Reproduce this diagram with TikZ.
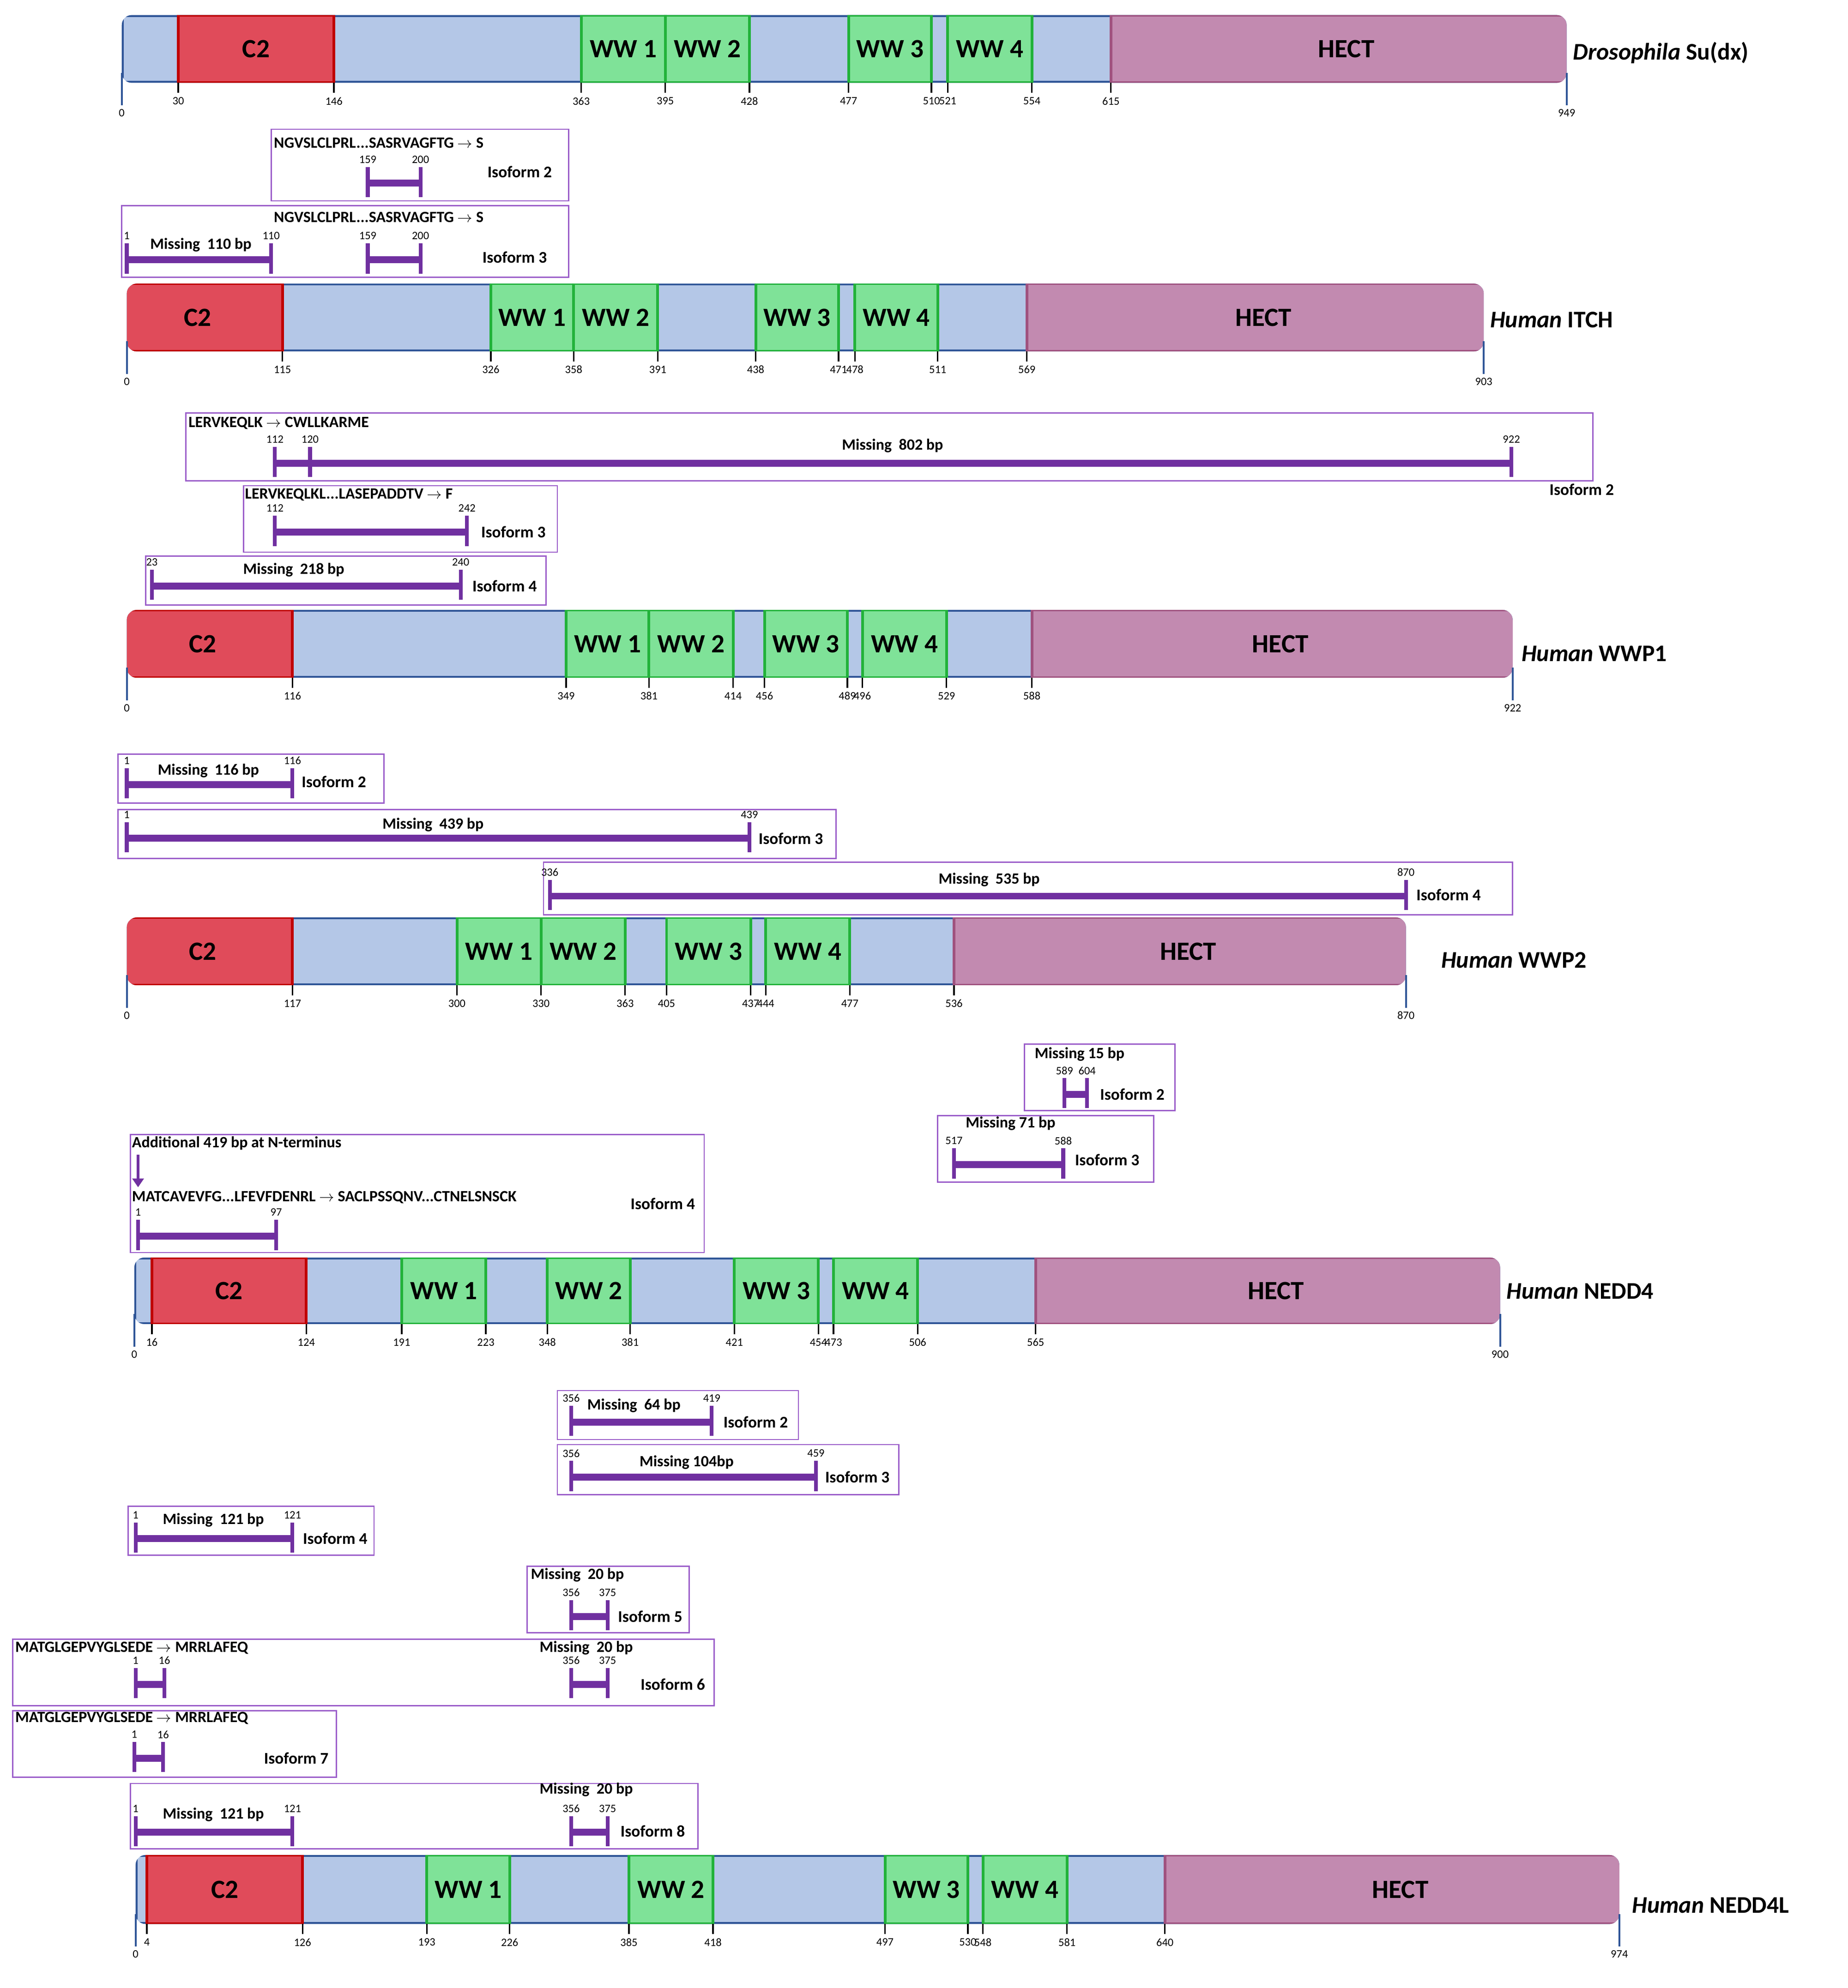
\documentclass[tikz,border=0pt]{standalone}
\usepackage{fontspec}
\usetikzlibrary{arrows.meta}
\setmainfont{Carlito}
\definecolor{lb}{HTML}{B4C7E7}
\definecolor{db}{HTML}{2F5597}
\definecolor{cr}{HTML}{E04B5A}
\definecolor{crd}{HTML}{C00000}
\definecolor{wg}{HTML}{7FE298}
\definecolor{wgd}{HTML}{22B23A}
\definecolor{hm}{HTML}{C28AB0}
\definecolor{hmd}{HTML}{A0527F}
\definecolor{pu}{HTML}{7030A0}
\definecolor{pb}{HTML}{9A5CC9}
\tikzset{
 c2/.style={fill=cr,draw=crd},
 ww/.style={fill=wg,draw=wgd},
 hect/.style={fill=hm,draw=hmd},
 dom/.style={font=\fontsize{21}{21}\selectfont\bfseries},
 num/.style={font=\fontsize{9}{9}\selectfont,inner sep=0pt},
 bt/.style={font=\fontsize{12.5}{13}\selectfont\bfseries,inner sep=0pt},
 iso/.style={font=\fontsize{13}{13}\selectfont\bfseries,inner sep=0pt},
 ttl/.style={font=\fontsize{19}{19}\selectfont\bfseries,inner sep=0pt,anchor=west},
 tick/.style={draw=black,line width=1.2},
 endl/.style={draw=db,line width=1.5},
 pv/.style={draw=pu,line width=3},
 ph/.style={draw=pu,line width=5.5},
 boxs/.style={draw=pb,line width=1},
}
\newcommand\pbar[5]{\def\ya{#3}\def\yb{#4}%
 \begin{scope}
 \clip[rounded corners=8] (#1,#3) rectangle (#2,#4);
 \filldraw[fill=lb,draw=db,line width=3] (#1,#3) rectangle (#2,#4);
 \begin{scope}[line width=2.2]#5\end{scope}
 \end{scope}}
\newcommand\sg[4]{\filldraw[#3] (#1,\ya) rectangle (#2,\yb);
 \node[dom] at ({(#1+#2)/2},{(\ya+\yb)/2}) {#4};}
\newcommand\tk[2]{\draw[tick] (#1,\yb) -- ++(0,8); \node[num] at (#1,\yb+14.5) {#2};}
\newcommand\etk[2]{\draw[endl] (#1,\yb-8) -- (#1,\yb+18); \node[num] at (#1,\yb+24) {#2};}
\newcommand\brk[5]{\draw[ph] (#1,#3) -- (#2,#3);
 \draw[pv] (#1,#3-13) -- (#1,#3+11); \draw[pv] (#2,#3-13) -- (#2,#3+11);
 \node[num] at (#1,#3-19) {#4}; \node[num] at (#2,#3-19) {#5};}
\newcommand\arr{$\rightarrow$}
\begin{document}
\begin{tikzpicture}[x=1pt,y=-1pt]
\useasboundingbox[fill=white] (0,0) rectangle (1472,1584);
% ---------------- Su(dx)
\pbar{97}{1248}{12}{66}{\sg{142}{266}{c2}{C2}\sg{463}{530}{ww}{WW 1}\sg{530}{597}{ww}{WW 2}\sg{676}{742}{ww}{WW 3}\sg{755}{822}{ww}{WW 4}\sg{885}{1260}{hect}{HECT}}
\foreach \x/\l in {142/30,266/146,463/363,530/395,597/428,676/477,742/510,755/521,822/554,885/615}{\tk{\x}{\l}}
\etk{97}{0}\etk{1248}{949}
\node[ttl] (t1) at (1253,42) {\textit{Drosophila} Su(dx)};
% ITCH isoforms
\draw[boxs] (216,103) rectangle (453,160);
\node[bt,anchor=west] (a1) at (218,114) {NGVSLCLPRL...SASRVAGFTG \arr{} S};
\brk{293}{335}{146}{159}{200}
\node[iso] (a2) at (414,137) {Isoform 2};
\draw[boxs] (97,164) rectangle (453,221);
\node[bt,anchor=west] (a3) at (218,173) {NGVSLCLPRL...SASRVAGFTG \arr{} S};
\brk{101}{216}{207}{1}{110}
\node[bt] (a4) at (160,195) {Missing\ \ 110 bp};
\brk{293}{335}{207}{159}{200}
\node[iso] (a5) at (410,205) {Isoform 3};
% ---------------- ITCH
\pbar{101}{1182}{226}{280}{\sg{90}{225}{c2}{C2}\sg{391}{457}{ww}{WW 1}\sg{457}{524}{ww}{WW 2}\sg{602}{668}{ww}{WW 3}\sg{681}{747}{ww}{WW 4}\sg{818}{1195}{hect}{HECT}}
\foreach \x/\l in {225/115,391/326,457/358,524/391,602/438,668/471,681/478,747/511,818/569}{\tk{\x}{\l}}
\etk{101}{0}\etk{1182}{903}
\node[ttl] (t2) at (1187,255) {\textit{Human} ITCH};
% WWP1 isoforms
\draw[boxs] (148,329) rectangle (1269,383);
\node[bt,anchor=west] (b1) at (150,337) {LERVKEQLK \arr{} CWLLKARME};
\brk{219}{1204}{369}{112}{922}
\draw[pv] (247,356) -- (247,380); \node[num] at (247,350) {120};
\node[bt] (b2) at (711,355) {Missing\ \ 802 bp};
\node[iso] (b3) at (1260,390) {Isoform 2};
\draw[boxs] (194,387) rectangle (444,440);
\node[bt,anchor=west] (b4) at (195,394) {LERVKEQLKL...LASEPADDTV \arr{} F};
\brk{219}{372}{424}{112}{242}
\node[iso] (b5) at (409,424) {Isoform 3};
\draw[boxs] (116,443) rectangle (435,482);
\brk{121}{367}{467}{23}{240}
\node[bt] (b6) at (234,454) {Missing\ \ 218 bp};
\node[iso] (b7) at (402,467) {Isoform 4};
% ---------------- WWP1
\pbar{101}{1205}{486}{540}{\sg{90}{233}{c2}{C2}\sg{451}{517}{ww}{WW 1}\sg{517}{584}{ww}{WW 2}\sg{609}{675}{ww}{WW 3}\sg{687}{754}{ww}{WW 4}\sg{822}{1218}{hect}{HECT}}
\foreach \x/\l in {233/116,451/349,517/381,584/414,609/456,675/489,687/496,754/529,822/588}{\tk{\x}{\l}}
\etk{101}{0}\etk{1205}{922}
\node[ttl] (t3) at (1212,521) {\textit{Human} WWP1};
% WWP2 isoforms
\draw[boxs] (94,601) rectangle (306,640);
\brk{101}{233}{625}{1}{116}
\node[bt] (c1) at (166,614) {Missing\ \ 116 bp};
\node[iso] (c2) at (266,623) {Isoform 2};
\draw[boxs] (94,645) rectangle (666,684);
\brk{101}{597}{668}{1}{439}
\node[bt] (c3) at (345,657) {Missing\ \ 439 bp};
\node[iso] (c4) at (630,668) {Isoform 3};
\draw[boxs] (433,687) rectangle (1205,729);
\brk{438}{1120}{714}{336}{870}
\node[bt] (c5) at (788,701) {Missing\ \ 535 bp};
\node[iso] (c6) at (1154,713) {Isoform 4};
% ---------------- WWP2
\pbar{101}{1120}{731}{785}{\sg{90}{233}{c2}{C2}\sg{364}{431}{ww}{WW 1}\sg{431}{498}{ww}{WW 2}\sg{531}{598}{ww}{WW 3}\sg{610}{677}{ww}{WW 4}\sg{760}{1133}{hect}{HECT}}
\foreach \x/\l in {233/117,364/300,431/330,498/363,531/405,598/437,610/444,677/477,760/536}{\tk{\x}{\l}}
\etk{101}{0}\etk{1120}{870}
\node[ttl] (t4) at (1148,765) {\textit{Human} WWP2};
% NEDD4 isoforms
\draw[boxs] (816,832) rectangle (936,885);
\node[bt] (d1) at (860,840) {Missing 15 bp};
\brk{848}{866}{872}{589}{604}
\node[iso] (d2) at (902,872) {Isoform 2};
\draw[boxs] (747,889) rectangle (919,942);
\node[bt] (d3) at (805,895) {Missing 71 bp};
\brk{760}{847}{928}{517}{588}
\node[iso] (d4) at (882,924) {Isoform 3};
\draw[boxs] (104,904) rectangle (561,998);
\node[bt,anchor=west] (d5) at (105,911) {Additional 419 bp at N-terminus};
\coordinate (ar1) at (110,920); \coordinate (ar2) at (110,946);
\draw[pu,line width=2.5,-{Triangle[length=7,width=9]}] (ar1) -- (ar2);
\node[bt,anchor=west] (d6) at (105,954) {MATCAVEVFG...LFEVFDENRL \arr{} SACLPSSQNV...CTNELSNSCK};
\brk{110}{220}{985}{1}{97}
\node[iso] (d7) at (528,959) {Isoform 4};
% ---------------- NEDD4
\pbar{107}{1195}{1002}{1055}{\sg{121}{244}{c2}{C2}\sg{320}{387}{ww}{WW 1}\sg{436}{502}{ww}{WW 2}\sg{585}{652}{ww}{WW 3}\sg{664}{731}{ww}{WW 4}\sg{825}{1208}{hect}{HECT}}
\foreach \x/\l in {121/16,244/124,320/191,387/223,436/348,502/381,585/421,652/454,664/473,731/506,825/565}{\tk{\x}{\l}}
\etk{107}{0}\etk{1195}{900}
\node[ttl] (t5) at (1200,1029) {\textit{Human} NEDD4};
% NEDD4L isoforms
\draw[boxs] (444,1108) rectangle (636,1147);
\brk{455}{567}{1133}{356}{419}
\node[bt] (e1) at (505,1120) {Missing\ \ 64 bp};
\node[iso] (e2) at (602,1133) {Isoform 2};
\draw[boxs] (444,1151) rectangle (716,1191);
\brk{455}{650}{1177}{356}{459}
\node[bt] (e3) at (547,1165) {Missing 104bp};
\node[iso] (e4) at (683,1177) {Isoform 3};
\draw[boxs] (102,1200) rectangle (298,1239);
\brk{108}{233}{1226}{1}{121}
\node[bt] (e5) at (170,1211) {Missing\ \ 121 bp};
\node[iso] (e6) at (267,1226) {Isoform 4};
\draw[boxs] (420,1248) rectangle (549,1301);
\node[bt] (e7) at (460,1255) {Missing\ \ 20 bp};
\brk{455}{484}{1288}{356}{375}
\node[iso] (e8) at (518,1288) {Isoform 5};
\draw[boxs] (10,1306) rectangle (569,1359);
\node[bt,anchor=west] (e9) at (12,1313) {MATGLGEPVYGLSEDE \arr{} MRRLAFEQ};
\brk{108}{131}{1342}{1}{16}
\node[bt] (e10) at (467,1313) {Missing\ \ 20 bp};
\brk{455}{484}{1342}{356}{375}
\node[iso] (e11) at (536,1342) {Isoform 6};
\draw[boxs] (10,1363) rectangle (268,1416);
\node[bt,anchor=west] (e12) at (12,1369) {MATGLGEPVYGLSEDE \arr{} MRRLAFEQ};
\brk{107}{130}{1401}{1}{16}
\node[iso] (e13) at (236,1401) {Isoform 7};
\draw[boxs] (104,1421) rectangle (556,1473);
\node[bt] (e14) at (467,1426) {Missing\ \ 20 bp};
\brk{108}{233}{1460}{1}{121}
\node[bt] (e15) at (170,1446) {Missing\ \ 121 bp};
\brk{455}{484}{1460}{356}{375}
\node[iso] (e16) at (520,1459) {Isoform 8};
% ---------------- NEDD4L
\pbar{108}{1290}{1478}{1533}{\sg{117}{241}{c2}{C2}\sg{340}{406}{ww}{WW 1}\sg{501}{568}{ww}{WW 2}\sg{705}{771}{ww}{WW 3}\sg{783}{850}{ww}{WW 4}\sg{928}{1303}{hect}{HECT}}
\foreach \x/\l in {117/4,241/126,340/193,406/226,501/385,568/418,705/497,771/530,783/548,850/581,928/640}{\tk{\x}{\l}}
\etk{108}{0}\etk{1290}{974}
\node[ttl] (t6) at (1300,1518) {\textit{Human} NEDD4L};
\end{tikzpicture}
\end{document}
